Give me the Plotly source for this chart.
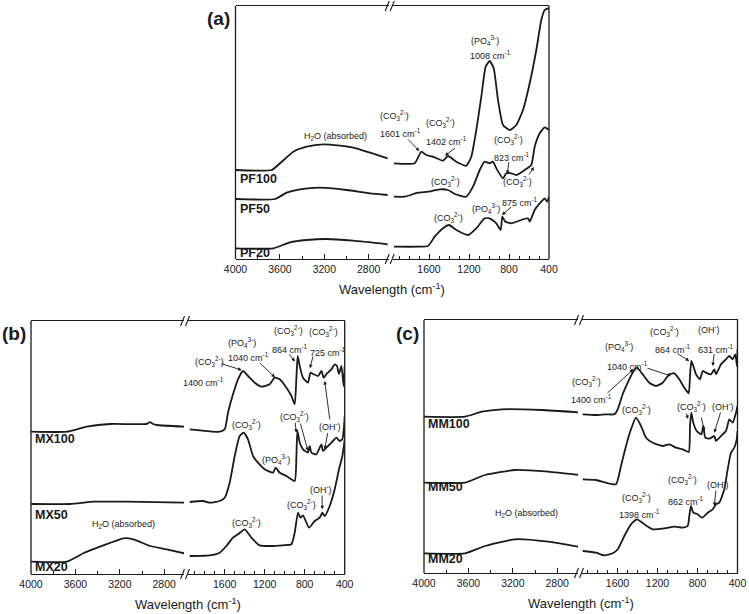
import plotly.graph_objects as go

W, H = 749, 614

# ---------------- data (wavenumber cm-1, intensity a.u.) ----------------
PF100_wn = [4000, 3674, 3599, 3479, 3359, 3209, 3059, 2939, 2788, 2629,
            1950, 1743, 1677, 1627, 1543, 1460, 1410, 1327, 1227, 1177, 1127, 1077, 1033, 993, 953,
            910, 860, 793, 727, 660, 593, 527, 477, 443, 410, 400]
PF100_int = [89, 89, 95.7, 107.3, 112.3, 114.7, 113.3, 111.3, 106.3, 100.7,
             95.7, 95.7, 107.3, 104, 101.7, 98.3, 103, 97.3, 93.3, 102.3, 129, 162.3, 192.3, 198, 190.7,
             159, 134, 129, 134, 149, 175.7, 209, 239, 249, 250.7, 251]

PF50_wn = [4000, 3644, 3539, 3419, 3239, 2998, 2788, 2629,
           1950, 1843, 1710, 1610, 1493, 1410, 1343, 1227, 1160, 1093, 1043, 993, 960, 927, 860, 827,
           777, 727, 643, 577, 543, 493, 443, 400]
PF50_int = [60, 60, 66.3, 69.7, 71.3, 69, 65.7, 64,
            62.3, 62.3, 66.3, 67.3, 69.7, 69, 65, 62.3, 72.3, 89, 97.3, 95.7, 97.3, 90.7, 80.7, 85.7,
            85.7, 84, 89, 94, 112.3, 125.7, 131.7, 129]

PF20_wn = [4000, 3659, 3509, 3359, 3178, 2939, 2629,
           1950, 1710, 1610, 1543, 1460, 1400, 1327, 1210, 1127, 1043, 993, 927, 883, 867, 837, 777,
           677, 610, 593, 543, 477, 443, 417, 400]
PF20_int = [10.7, 10.7, 16.7, 19, 20, 18.3, 14.7,
            12.3, 12.3, 13, 22.3, 30.7, 34, 29, 24, 30.7, 40.7, 40.7, 35.7, 29, 42.3, 37.3, 35.7,
            39, 40.7, 37.3, 49, 57.3, 60.7, 57.3, 62.3]

MX100_wn = [4000, 3678, 3498, 3288, 2960, 2928, 2900, 2868, 2619,
            1950, 1650, 1600, 1567, 1517, 1467, 1417, 1367, 1300, 1233, 1150, 1100, 1050, 983, 933,
            900, 883, 870, 850, 817, 767, 743, 717, 667, 633, 610, 583, 533, 500, 477, 457, 433, 410, 400]
MX100_int = [142.3, 142.3, 147.3, 150, 150, 151.8, 150, 149, 147.3,
             144.7, 142.3, 144.7, 161.3, 179.7, 194.7, 203, 198, 191.3, 187.3, 189.7, 196.3, 194.7, 186.3, 178,
             169.7, 196, 218, 208, 196.3, 191.3, 201.3, 200, 198, 203, 196.3, 200, 204.7, 209.7, 208, 200, 208, 188, 208]

MX50_wn = [4000, 3649, 3439, 3138, 2619,
           1950, 1817, 1750, 1650, 1600, 1550, 1500, 1450, 1410, 1367, 1317, 1267, 1200, 1117, 1090,
           1050, 983, 900, 883, 873, 850, 817, 767, 750, 733, 683, 633, 617, 567, 517, 483, 450, 423, 400]
MX50_int = [70, 70, 72.3, 72.3, 71.3,
            72, 73, 71.3, 73, 76.3, 91.3, 118, 138, 141.3, 134.7, 118, 111.3, 104.7, 101.3, 106.3,
            101.3, 98, 93, 118, 143, 131.3, 124.7, 121.3, 128, 121.3, 119.7, 129.7, 123, 128, 133, 136.3, 133, 135, 158]

MX20_wn = [4000, 3678, 3529, 3378, 3168, 3078, 2928, 2778, 2619,
           1950, 1750, 1650, 1583, 1517, 1467, 1400, 1333, 1250, 1150, 1017, 933, 900, 867, 843, 817,
           757, 700, 650, 623, 600, 550, 500, 457, 423, 400]
MX20_int = [12.3, 12.3, 20.7, 27.3, 35.7, 34.7, 28, 24.7, 20.7,
            18, 18.7, 21.3, 28, 36.3, 39.7, 44.7, 36.3, 28.7, 28, 28.7, 29.7, 41.3, 61.3, 56.3, 58.7,
            46.3, 53, 56.3, 61.3, 58, 68, 84.7, 104.7, 118, 134.7]

MM100_wn = [4000, 3631, 3480, 3300, 2940, 2610,
            1948, 1815, 1715, 1632, 1598, 1548, 1498, 1448, 1405, 1348, 1282, 1215, 1148, 1082, 1032,
            982, 932, 888, 875, 862, 842, 815, 775, 748, 715, 665, 632, 615, 565, 515, 482, 448, 422, 405, 400]
MM100_int = [156.3, 156.3, 161.3, 163.7, 163, 160.7,
             158.7, 158, 158.7, 158.7, 163.7, 178.7, 190.3, 200.3, 205.3, 198.7, 190.3, 187, 190.3, 198.7, 199.7,
             193.7, 185.3, 179.7, 196.7, 212, 207, 198.7, 193.7, 202, 200.3, 198.7, 203.7, 198.7, 208.7, 213.7,
             217, 213.7, 218.7, 207, 223.7]

MM50_wn = [4000, 3631, 3450, 3180, 2880, 2610,
           1948, 1815, 1715, 1615, 1565, 1515, 1465, 1415, 1365, 1315, 1248, 1148, 1082, 1015, 948,
           888, 875, 862, 842, 808, 762, 742, 722, 682, 632, 615, 565, 515, 482, 448, 415, 400]
MM50_int = [90.3, 90.3, 98, 103, 101.3, 98,
            93.7, 93, 90.3, 88.7, 107, 127, 143.7, 155.3, 147, 135.3, 130.3, 127, 128.7, 125.3, 123.7,
            121, 147, 160.3, 150.3, 142, 138.7, 147, 135.3, 134.3, 137, 132, 137, 142, 153.7, 150.3, 160.3, 167]

MM20_wn = [4000, 3631, 3450, 3180, 2880, 2610,
           1948, 1815, 1732, 1648, 1598, 1532, 1465, 1405, 1332, 1248, 1148, 1032, 948, 898, 882, 865,
           842, 798, 755, 698, 648, 615, 582, 532, 498, 465, 432, 408, 400]
MM20_int = [19.7, 19.7, 27, 33.7, 31.3, 26.3,
            22, 20.3, 17.7, 19.7, 23.7, 37, 48.7, 53.7, 48.7, 43.7, 44.3, 46.3, 45.3, 47, 57, 67,
            60.3, 58.7, 55.3, 60.3, 63.7, 68.7, 70.3, 83.7, 103.7, 120.3, 125.3, 133.7, 142]

panel_series = {
    "a": [("PF100", PF100_wn, PF100_int), ("PF50", PF50_wn, PF50_int), ("PF20", PF20_wn, PF20_int)],
    "b": [("MX100", MX100_wn, MX100_int), ("MX50", MX50_wn, MX50_int), ("MX20", MX20_wn, MX20_int)],
    "c": [("MM100", MM100_wn, MM100_int), ("MM50", MM50_wn, MM50_int), ("MM20", MM20_wn, MM20_int)],
}
left_ticks = [4000, 3600, 3200, 2800]
right_ticks = [1600, 1200, 800, 400]
BREAK_WN = 2300

# ---------------- layout geometry (pixels) ----------------
geom = {
    "a": dict(x0=235.5, xb=390.7, x1=549.0, top=6, bot=259),
    "b": dict(x0=31.0, xb=186.0, x1=344.7, top=321, bot=574),
    "c": dict(x0=424.0, xb=580.0, x1=737.5, top=320, bot=573),
}
LSCALE = 0.111   # px per cm-1 left part
RSCALE = 0.100   # px per cm-1 right part
GAP = 2.0

def fx(px):
    return px / W

def fy(py):
    return 1 - py / H

FONT = "Liberation Sans, Arial, sans-serif"
INK = "#1a1a1a"

fig = go.Figure()
layout = dict(template="none", width=W, height=H, autosize=False,
              margin=dict(l=0, r=0, t=0, b=0, pad=0),
              paper_bgcolor="white", plot_bgcolor="white", showlegend=False,
              font=dict(family=FONT, color=INK))
shapes = []
annotations = []

for i, key in enumerate(["a", "b", "c"]):
    g = geom[key]
    xl = "x" if i == 0 else f"x{2 * i + 1}"
    xr = f"x{2 * i + 2}"
    yn = "y" if i == 0 else f"y{i + 1}"
    xl_name = "xaxis" if i == 0 else f"xaxis{2 * i + 1}"
    xr_name = f"xaxis{2 * i + 2}"
    yname = "yaxis" if i == 0 else f"yaxis{i + 1}"

    ldom = [g["x0"], g["xb"] - GAP]
    rdom = [g["xb"] + GAP, g["x1"]]
    lrange = [4000, 4000 - (ldom[1] - ldom[0]) / LSCALE]
    rrange = [400 + (rdom[1] - rdom[0]) / RSCALE, 400]

    common = dict(showline=True, mirror=True, linecolor=INK, linewidth=1.3,
                  ticks="inside", ticklen=5, tickwidth=1, tickcolor=INK,
                  showgrid=False, zeroline=False, anchor=yn, automargin=False,
                  tickfont=dict(family=FONT, size=10.5, color=INK))
    layout[xl_name] = dict(common, domain=[fx(ldom[0]), fx(ldom[1])], range=lrange,
                           tickvals=left_ticks,
                           minor=dict(dtick=200, tick0=0, ticklen=3, ticks="inside", tickcolor=INK,
                                      showgrid=False))
    layout[xr_name] = dict(common, domain=[fx(rdom[0]), fx(rdom[1])], range=rrange,
                           tickvals=right_ticks,
                           minor=dict(dtick=100, tick0=0, ticklen=3, ticks="inside", tickcolor=INK,
                                      showgrid=False))
    layout[yname] = dict(domain=[fy(g["bot"]), fy(g["top"])], range=[0, 253],
                         showticklabels=False, showgrid=False, zeroline=False, automargin=False,
                         showline=False, ticks="", anchor=xl)

    for name, wn, inten in panel_series[key]:
        lx = [w for w in wn if w > BREAK_WN]
        ly = [v for w, v in zip(wn, inten) if w > BREAK_WN]
        rx = [w for w in wn if w <= BREAK_WN]
        ry = [v for w, v in zip(wn, inten) if w <= BREAK_WN]
        for xs, ys, xa in [(lx, ly, xl), (rx, ry, xr)]:
            fig.add_trace(go.Scatter(x=xs, y=ys, xaxis=xa, yaxis=yn, mode="lines",
                                     line=dict(color=INK, width=1.8, shape="spline", smoothing=0.5),
                                     hoverinfo="skip", name=name))

    for xe in (g["x0"], g["x1"]):
        shapes.append(dict(type="line", xref="paper", yref="paper",
                           x0=fx(xe), x1=fx(xe), y0=fy(g["bot"]), y1=fy(g["top"]),
                           line=dict(color=INK, width=1.3)))
    for yb in (g["top"], g["bot"]):
        for off in (-3.5, 1.5):
            shapes.append(dict(type="line", xref="paper", yref="paper",
                               x0=fx(g["xb"] + off - 2), y0=fy(yb + 5),
                               x1=fx(g["xb"] + off + 2), y1=fy(yb - 5),
                               line=dict(color=INK, width=1.1)))
    annotations.append(dict(text="Wavelength (cm<sup>-1</sup>)", xref="paper", yref="paper",
                            x=fx((g["x0"] + g["x1"]) / 2), y=fy(g["bot"] + 30),
                            showarrow=False, xanchor="center", yanchor="middle",
                            font=dict(family=FONT, size=13, color=INK)))

for txt, px, py in [("(a)", 232, 18), ("(b)", 28, 333), ("(c)", 421, 333)]:
    annotations.append(dict(text=f"<b>{txt}</b>", xref="paper", yref="paper", x=fx(px), y=fy(py),
                            showarrow=False, xanchor="right", yanchor="middle",
                            font=dict(family=FONT, size=19, color=INK)))

sample_labels = [("PF100", 238, 179), ("PF50", 238, 208.5), ("PF20", 238, 253),
                 ("MX100", 33, 439.3), ("MX50", 33, 515), ("MX20", 33, 566.5),
                 ("MM100", 426, 424), ("MM50", 426, 486.7), ("MM20", 426, 559.3)]
for txt, px, py in sample_labels:
    annotations.append(dict(text=f"<b>{txt}</b>", xref="paper", yref="paper", x=fx(px), y=fy(py),
                            showarrow=False, xanchor="left", yanchor="middle",
                            font=dict(family=FONT, size=12.5, color=INK)))

CO3 = "(CO<sub>3</sub><sup>2-</sup>)"
PO4 = "(PO<sub>4</sub><sup>3-</sup>)"
OH = "(OH<sup>-</sup>)"
H2O = "H<sub>2</sub>O (absorbed)"
def cm(v):
    return f"{v} cm<sup>-1</sup>"

text_labels = [
    (PO4, 485, 40), (cm(1008), 490.7, 55), (CO3, 394, 116), (cm(1601), 400, 132.7),
    (CO3, 440, 123), (cm(1402), 446.7, 141), (H2O, 335, 136.7), (CO3, 508.3, 139.3),
    (cm(823), 511.7, 156.7), (CO3, 517.7, 181.7), (CO3, 445, 181.7), (CO3, 448.3, 217.3),
    (PO4, 485.7, 209), (cm(875), 520, 202.3),
    (PO4, 241.7, 342.7), (cm(1040), 248.3, 356.7), (CO3, 210, 361.7), (cm(1400), 203.3, 381.7),
    (CO3, 288.3, 330), (cm(864), 290, 349.3), (CO3, 323.3, 331.7), (cm(725), 328.3, 351.7),
    (OH, 329.7, 426), (CO3, 294.7, 416), (CO3, 246.3, 424.3), (PO4, 276.3, 459.3),
    (CO3, 301.3, 504.3), (OH, 321.3, 489.3), (CO3, 246.3, 522.7), (H2O, 123.3, 524.3),
    (CO3, 664.3, 331), (OH, 709.3, 329.3), (PO4, 619.3, 346), (cm(864), 672.7, 348.7),
    (cm(631), 716, 348.7), (cm(1040), 627.7, 366), (CO3, 586, 381), (cm(1400), 591, 399.3),
    (CO3, 636, 409.3), (CO3, 691, 406), (OH, 722.7, 406), (CO3, 682.7, 479.3),
    (cm(862), 686, 501), (OH, 717.7, 484.3), (CO3, 636, 497.7), (cm(1398), 639.3, 514.3),
    (H2O, 526.7, 513.3),
]
for txt, px, py in text_labels:
    annotations.append(dict(text=txt, xref="paper", yref="paper", x=fx(px), y=fy(py),
                            showarrow=False, xanchor="center", yanchor="middle",
                            font=dict(family=FONT, size=9, color=INK)))

arrows = [
    (406.7, 138, 419.3, 151), (456.7, 146.7, 445, 155.7), (509, 160.7, 507.3, 174),
    (512.7, 205.7, 502, 215), (528, 176, 534, 167),
    (220, 363.3, 241.7, 370), (258.3, 361.7, 275, 377.3), (288, 353, 295, 361.5),
    (313.3, 355, 310, 368.3), (330, 421, 324.7, 381), (328, 431.5, 324.7, 449.3),
    (295, 421, 296.3, 432.7), (300, 422, 308, 451), (322, 494, 322.3, 509.3),
    (606, 394.3, 633.3, 369.3), (646, 367.7, 671, 376), (676, 352.7, 689.3, 361),
    (714.3, 352.7, 712.7, 366), (686, 412, 688, 419), (701, 416, 704.3, 431),
    (721, 411, 714.3, 432.7), (716, 489.3, 714.3, 506),
]
for tx, ty, hx, hy in arrows:
    annotations.append(dict(text="", xref="paper", yref="paper", x=fx(hx), y=fy(hy),
                            ax=tx - hx, ay=ty - hy, axref="pixel", ayref="pixel",
                            showarrow=True, arrowhead=2, arrowsize=0.8, arrowwidth=0.9,
                            arrowcolor=INK, standoff=0, startstandoff=0))

layout["shapes"] = shapes
layout["annotations"] = annotations
fig.update_layout(**layout)
fig.write_html("out.html", config={"displayModeBar": False, "staticPlot": True},
               post_script="document.body.style.margin='0';document.body.style.padding='0';"
                           "document.documentElement.style.overflow='hidden';")
